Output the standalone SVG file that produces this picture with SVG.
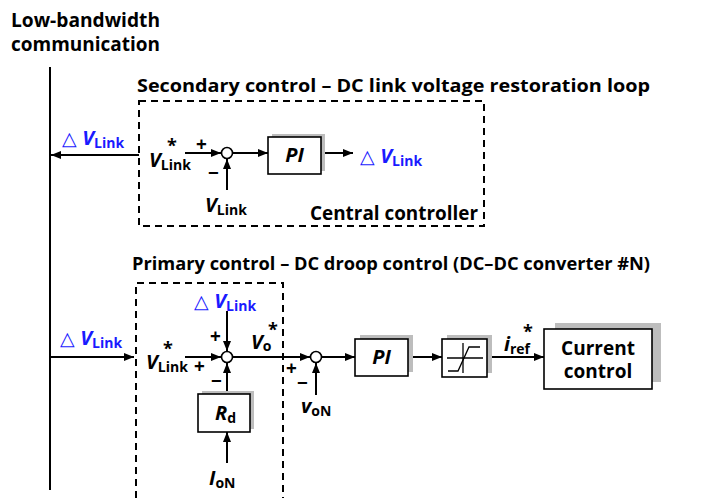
<svg xmlns="http://www.w3.org/2000/svg" width="702" height="500" viewBox="0 0 702 500">
<defs>
<marker id="ah" viewBox="0 0 10 8" refX="10" refY="4" markerWidth="10" markerHeight="8" markerUnits="userSpaceOnUse" orient="auto"><path d="M0,0 L10,4 L0,8 z" fill="#000"/></marker>
<style>
.t{font-family:"Open Sans","Noto Sans","Liberation Sans",sans-serif;font-weight:bold;fill:#000}
.h{font-size:18px}
.v{font-family:"Open Sans","Noto Sans","Liberation Sans",sans-serif;font-weight:bold;font-style:italic;font-size:20px;fill:#000}
.s{font-style:normal;font-size:14px}
.blue{fill:#1a1aff}
.tri{font-style:normal;font-weight:normal;font-size:19px}
.ast{font-family:"Open Sans","Liberation Sans",sans-serif;font-weight:bold;font-size:18px;fill:#000}
.pm{font-family:"Open Sans","Liberation Sans",sans-serif;font-weight:bold;font-size:19px;fill:#000}
.ln{stroke:#000;stroke-width:2;fill:none}
.arr{stroke:#000;stroke-width:2;fill:none;marker-end:url(#ah)}
.box{fill:#fff;stroke:#000;stroke-width:1.6}
.sh{fill:#bdbdbd}
.dash{fill:none;stroke:#000;stroke-width:2;stroke-dasharray:7,5}
.sum{fill:#fff;stroke:#000;stroke-width:1.6}
</style>
</defs>
<rect width="702" height="500" fill="#fff"/>

<g id="title">
<text class="t" x="11" y="27" font-size="19" textLength="149" lengthAdjust="spacingAndGlyphs">Low-bandwidth</text>
<text class="t" x="11" y="51" font-size="19" textLength="149" lengthAdjust="spacingAndGlyphs">communication</text>
</g>

<g id="secondary-frame">
<text class="t h" x="137" y="92" textLength="513" lengthAdjust="spacingAndGlyphs">Secondary control – DC link voltage restoration loop</text>
<rect class="dash" x="139" y="101" width="345" height="125"/>
<text class="t" x="310" y="220" font-size="19" textLength="168" lengthAdjust="spacingAndGlyphs">Central controller</text>
</g>

<g id="primary-frame">
<text class="t h" x="132" y="270" textLength="518" lengthAdjust="spacingAndGlyphs">Primary control – DC droop control (DC–DC converter #N)</text>
<path class="dash" d="M136,498 L136,283 L283,283 L283,498"/>
</g>

<g id="connectors">
<line class="ln" x1="50" y1="67" x2="50" y2="490"/>
<line class="arr" x1="139" y1="155" x2="51" y2="155"/>
<line class="arr" x1="185" y1="153" x2="221" y2="153"/>
<line class="arr" x1="227" y1="190" x2="227" y2="159"/>
<line class="arr" x1="232" y1="153" x2="268" y2="153"/>
<line class="arr" x1="321" y1="153" x2="353" y2="153"/>
<line class="arr" x1="51" y1="357" x2="134" y2="357"/>
<line class="arr" x1="185" y1="357" x2="221" y2="357"/>
<line class="arr" x1="227" y1="311" x2="227" y2="351"/>
<line class="arr" x1="227" y1="394" x2="227" y2="363"/>
<line class="arr" x1="227" y1="463" x2="227" y2="432"/>
<line class="arr" x1="233" y1="357" x2="310" y2="357"/>
<line class="arr" x1="316" y1="395" x2="316" y2="363"/>
<line class="arr" x1="321" y1="357" x2="355" y2="357"/>
<line class="arr" x1="408" y1="357" x2="442" y2="357"/>
<line class="arr" x1="487" y1="357" x2="544" y2="357"/>
</g>

<g id="sum1"><circle class="sum" cx="227" cy="153" r="5.5"/></g>
<g id="pi1">
<rect class="sh" x="272" y="134" width="53" height="37"/>
<rect class="box" x="268" y="137" width="53" height="37"/>
<text class="v" x="294.5" y="162" text-anchor="middle" font-size="19">PI</text>
</g>
<g id="sec-labels">
<text class="v blue" x="62" y="145"><tspan class="tri">△</tspan> V<tspan class="s" dy="3">Link</tspan></text>
<text class="v" x="149" y="167">V<tspan class="s" dy="3">Link</tspan></text>
<text class="ast" x="167" y="152">*</text>
<text class="pm" x="196" y="151">+</text>
<text class="pm" x="208" y="180">−</text>
<text class="v" x="205" y="212">V<tspan class="s" dy="3">Link</tspan></text>
<text class="v blue" x="360" y="163"><tspan class="tri">△</tspan> V<tspan class="s" dy="3">Link</tspan></text>
</g>

<g id="sum2"><circle class="sum" cx="227" cy="357" r="5.5"/></g>
<g id="rd">
<rect class="sh" x="202" y="391" width="52" height="38"/>
<rect class="box" x="198" y="394" width="52" height="38"/>
<text class="v" x="215" y="420">R<tspan class="s" dy="3">d</tspan></text>
</g>
<g id="sum3"><circle class="sum" cx="316" cy="357" r="5.5"/></g>
<g id="pi2">
<rect class="sh" x="360" y="335" width="53" height="37"/>
<rect class="box" x="355" y="339" width="53" height="37"/>
<text class="v" x="381.5" y="364" text-anchor="middle" font-size="19">PI</text>
</g>
<g id="limiter">
<rect class="sh" x="447" y="335" width="45" height="38"/>
<rect class="box" x="442" y="339" width="45" height="38"/>
<line x1="447" y1="358" x2="483" y2="358" stroke="#000" stroke-width="1.3"/>
<line x1="463" y1="343" x2="463" y2="373" stroke="#000" stroke-width="1.3"/>
<polyline points="448,371 458,371 469,347 480,347" fill="none" stroke="#000" stroke-width="1.3"/>
</g>
<g id="current-control">
<rect class="sh" x="555" y="323" width="106" height="59"/>
<rect class="box" x="544" y="329" width="108" height="60"/>
<text class="t" x="598" y="355" font-size="19" text-anchor="middle">Current</text>
<text class="t" x="598" y="378" font-size="19" text-anchor="middle">control</text>
</g>
<g id="pri-labels">
<text class="v blue" x="60" y="345"><tspan class="tri">△</tspan> V<tspan class="s" dy="3">Link</tspan></text>
<text class="v" x="146" y="369">V<tspan class="s" dy="3">Link</tspan></text>
<text class="ast" x="163" y="355">*</text>
<text class="pm" x="194" y="373">+</text>
<text class="pm" x="210" y="343">+</text>
<text class="pm" x="211" y="388">−</text>
<text class="v blue" x="194" y="308"><tspan class="tri">△</tspan> V<tspan class="s" dy="3">Link</tspan></text>
<text class="v" x="251" y="349">V<tspan class="s" dy="2">o</tspan></text>
<text class="ast" x="268" y="336">*</text>
<text class="v" x="209" y="485">I<tspan class="s" dy="3">oN</tspan></text>
<text class="pm" x="286" y="375">+</text>
<text class="pm" x="297" y="390">−</text>
<text class="v" x="301" y="413">v<tspan class="s" dy="3">oN</tspan></text>
<text class="v" x="504" y="351">i<tspan class="s" dy="3">ref</tspan></text>
<text class="ast" x="523" y="338">*</text>
</g>
</svg>
